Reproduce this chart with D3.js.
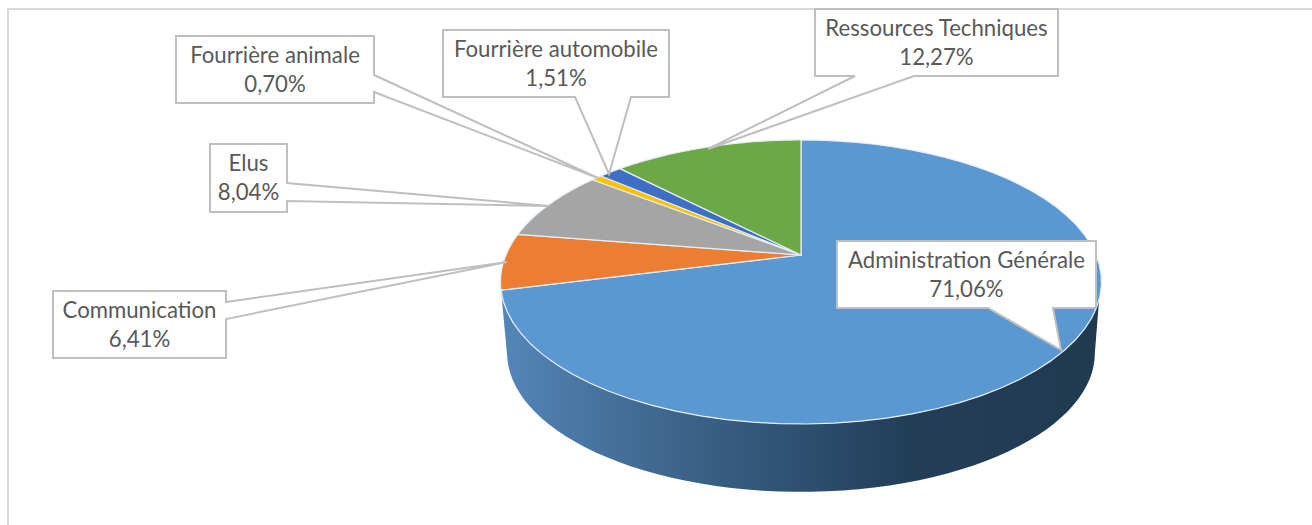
<!DOCTYPE html>
<html><head><meta charset="utf-8">
<script src="https://cdn.jsdelivr.net/npm/d3@7"></script>
<style>html,body{margin:0;padding:0;background:#fff}svg{display:block}</style>
</head><body><div id="chart"></div>
<script>
const categories = ["Administration Générale","Communication","Elus","Fourrière animale","Fourrière automobile","Ressources Techniques"];
const values = [71.06,6.41,8.04,0.70,1.51,12.27];
const valueLabels = ["71,06%","6,41%","8,04%","0,70%","1,51%","12,27%"];
const colors = ["#5b97d1","#ed7d31","#a5a5a5","#ffc000","#3f6fc4","#6ca845"];

const W=1312,H=525;
const svg=d3.select("#chart").append("svg").attr("width",W).attr("height",H);
svg.append("rect").attr("x",8).attr("y",9).attr("width",W).attr("height",H).attr("fill","#fff").attr("stroke","#d9d9d9").attr("stroke-width",2);

// perspective projection of the pie disc
const cx=801,y0=255,a=295,b=136.9,k=-0.19;
const proj=t=>{const u=Math.sin(t),v=-Math.cos(t),d=1+k*v;return [cx+a*u/d,y0+b*v/d];};
const low=0.978,ecy=282,lowCy=353;
const projLow=t=>{const p=proj(t);return [cx+low*(p[0]-cx),lowCy+low*(p[1]-ecy)];};

const pie=d3.pie().sort(null).value(d=>d);
const arcs=pie(values);
const line=d3.line();
const sample=(s,e)=>d3.range(0,61).map(i=>s+(e-s)*i/60);

const defs=svg.append("defs");
const grad=defs.append("linearGradient").attr("id","side").attr("gradientUnits","userSpaceOnUse")
 .attr("x1",505).attr("x2",1100).attr("y1",0).attr("y2",0);
[[0,"#5386b8"],[0.15,"#47739f"],[0.3,"#3c6389"],[0.5,"#2e4f6f"],[0.68,"#233e57"],[1,"#203a50"]].forEach(s=>grad.append("stop").attr("offset",s[0]).attr("stop-color",s[1]));

// visible side wall of the large slice
const sideEnd=arcs[0].endAngle;
const upper=sample(108*Math.PI/180,sideEnd).map(proj);
const lower=sample(101*Math.PI/180,sideEnd).map(projLow).reverse();
svg.append("path").attr("fill","url(#side)").attr("d",line(upper.concat(lower))+"Z");

// top faces
svg.append("g").selectAll("path").data(arcs).join("path")
 .attr("fill",(d,i)=>colors[i]).attr("stroke","#e4eef6").attr("stroke-width",1.2).attr("stroke-linejoin","round")
 .attr("d",d=>line([[cx,y0]].concat(sample(d.startAngle,d.endAngle).map(proj)))+"Z");

// callouts: box [x0,y0,x1,y1], pointer base side, tip
const boxes=[
 {b:[837,241,1096,308],side:"bottom",base:[988,1053],tip:[1061,350],ty:[268,297]},
 {b:[53,291,226,358],side:"right",base:[302,319],tip:[507,262],ty:[318,347]},
 {b:[210,144,287,212],side:"right",base:[183,201],tip:[549,206],ty:[171,200]},
 {b:[176,36,374,103],side:"right",base:[75,92],tip:[598,178],ty:[63,92]},
 {b:[443,30,669,97],side:"bottom",base:[575,631],tip:[609,174],ty:[57,86]},
 {b:[815,9,1058,76],side:"bottom",base:[855,914],tip:[708,149],ty:[36,65]}
];
const g=svg.append("g").selectAll("g").data(boxes).join("g");
g.append("path").attr("fill","#fff").attr("stroke","#bfbfbf").attr("stroke-width",2).attr("stroke-linejoin","miter")
 .attr("d",d=>{const [x0,y0_,x1,y1]=d.b;
  const pts=d.side==="bottom"
   ?[[x0,y0_],[x1,y0_],[x1,y1],[d.base[1],y1],d.tip,[d.base[0],y1],[x0,y1]]
   :[[x0,y0_],[x1,y0_],[x1,d.base[0]],d.tip,[x1,d.base[1]],[x1,y1],[x0,y1]];
  return line(pts)+"Z";});
const font="Lato, 'Open Sans', sans-serif";
g.append("text").attr("x",d=>(d.b[0]+d.b[2])/2).attr("y",d=>d.ty[0]).attr("text-anchor","middle")
 .attr("font-family",font).attr("font-size",22.2).attr("fill","#595959").text((d,i)=>categories[i]);
g.append("text").attr("x",d=>(d.b[0]+d.b[2])/2).attr("y",d=>d.ty[1]).attr("text-anchor","middle")
 .attr("font-family",font).attr("font-size",22.2).attr("fill","#595959").text((d,i)=>valueLabels[i]);
</script></body></html>
